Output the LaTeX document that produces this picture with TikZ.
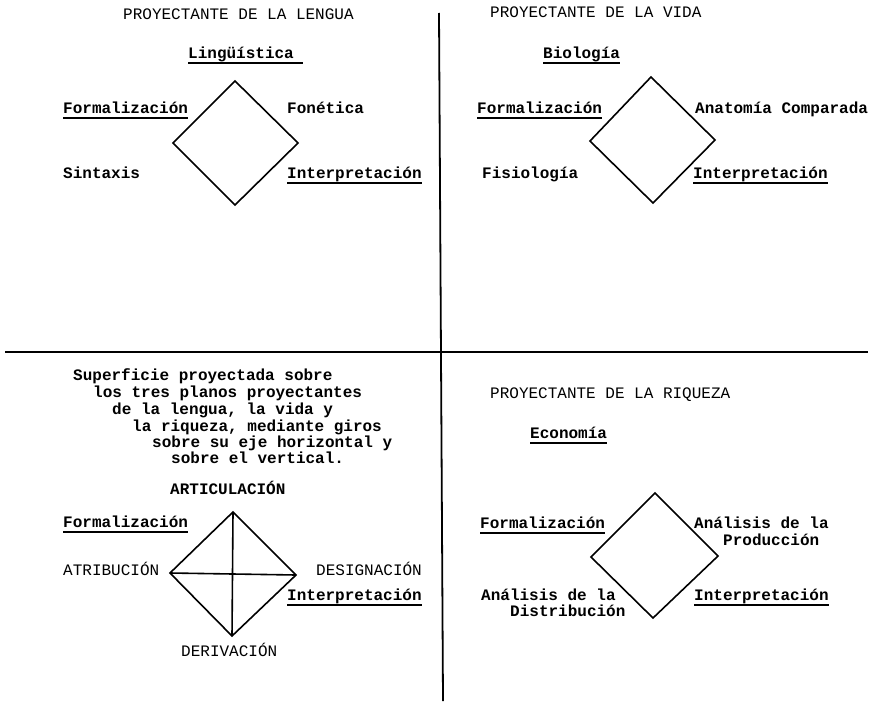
\documentclass[tikz,border=0pt]{standalone}
\usepackage{fontspec}
\setmainfont{Liberation Mono}
\newcommand\myul[1]{\setbox0\hbox{#1}\rlap{\rule[-5.5pt]{\wd0}{1.3pt}}\box0}
\begin{document}
\begin{tikzpicture}[x=1pt,y=-1pt,
  lbl/.style={anchor=base west, inner sep=0pt, font=\fontsize{16}{18}\selectfont\bfseries},
  hd/.style={anchor=base west, inner sep=0pt, font=\fontsize{16}{18}\selectfont},
  dia/.style={line width=1.6pt, line join=miter},
  rule/.style={line width=1.8pt}]
\useasboundingbox (0,0) rectangle (874,701);
% quadrant lines
\coordinate (vt) at (439,13);
\coordinate (vb) at (443,701);
\coordinate (hl) at (5,352);
\coordinate (hr) at (868,352);
\draw[rule] (vt) -- (vb);
\draw[rule] (hl) -- (hr);

% top left
\node[hd] (tlh) at (123,20) {PROYECTANTE DE LA LENGUA};
\node[lbl] (tls) at (188,58) {\myul{Lingüística\ }};
\node[lbl] (tlf) at (63,113) {\myul{Formalización}};
\node[lbl] (tlfo) at (287,113) {Fonética};
\node[lbl] (tlsi) at (63,178) {Sintaxis};
\node[lbl] (tli) at (287,178) {\myul{Interpretación}};
\draw[dia] (235,81) -- (298,143) -- (235,205) -- (173,143) -- cycle;

% top right
\node[hd] (trh) at (490,18) {PROYECTANTE DE LA VIDA};
\node[lbl] (trs) at (543,58) {\myul{Biología}};
\node[lbl] (trf) at (477,113) {\myul{Formalización}};
\node[lbl] (tra) at (695,113) {Anatomía Comparada};
\node[lbl] (trfi) at (482,178) {Fisiología};
\node[lbl] (tri) at (693,178) {\myul{Interpretación}};
\draw[dia] (651,77) -- (715,140) -- (653,203) -- (590,141) -- cycle;

% bottom left
\node[lbl] (p1) at (73,380) {Superficie proyectada sobre};
\node[lbl] (p2) at (93,397) {los tres planos proyectantes};
\node[lbl] (p3) at (112,414) {de la lengua, la vida y};
\node[lbl] (p4) at (132,431) {la riqueza, mediante giros};
\node[lbl] (p5) at (152,447) {sobre su eje horizontal y};
\node[lbl] (p6) at (171,463) {sobre el vertical.};
\node[lbl] (art) at (170,494) {ARTICULACIÓN};
\node[lbl] (blf) at (63,527) {\myul{Formalización}};
\node[hd] (atr) at (63,575) {ATRIBUCIÓN};
\node[hd] (des) at (316,575) {DESIGNACIÓN};
\node[lbl] (bli) at (287,600) {\myul{Interpretación}};
\node[hd] (der) at (181,656) {DERIVACIÓN};
\coordinate (bt) at (233,512);
\coordinate (br) at (296,575);
\coordinate (bb) at (232,636);
\coordinate (bl) at (170,573);
\draw[dia] (bt) -- (br) -- (bb) -- (bl) -- cycle;
\draw[dia] (bt) -- (bb);
\draw[dia] (bl) -- (br);

% bottom right
\node[hd] (brh) at (490,398) {PROYECTANTE DE LA RIQUEZA};
\node[lbl] (bre) at (530,438) {\myul{Economía}};
\node[lbl] (brf) at (480,528) {\myul{Formalización}};
\node[lbl] (brp1) at (694,528) {Análisis de la};
\node[lbl] (brp2) at (723,545) {Producción};
\node[lbl] (brd1) at (481,600) {Análisis de la};
\node[lbl] (brd2) at (510,616) {Distribución};
\node[lbl] (bri) at (694,600) {\myul{Interpretación}};
\draw[dia] (655,493) -- (718,556) -- (653,618) -- (591,557) -- cycle;
\end{tikzpicture}
\end{document}
